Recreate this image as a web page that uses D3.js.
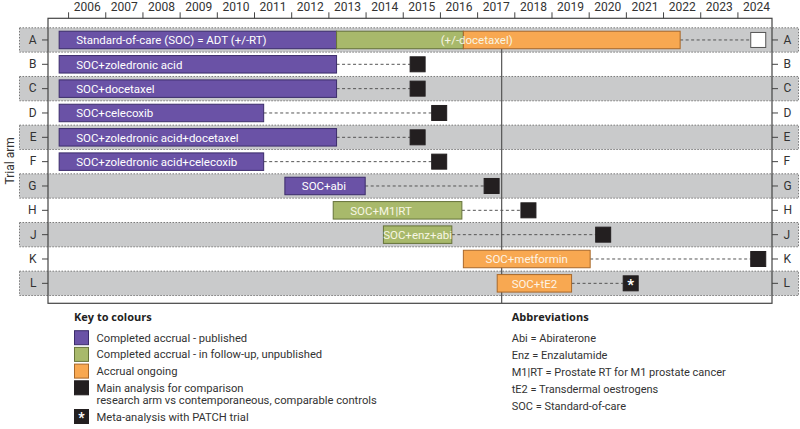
<!DOCTYPE html>
<html>
<head>
<meta charset="utf-8">
<script src="https://cdn.jsdelivr.net/npm/d3@7"></script>
<style>
  body { margin: 0; background: #fff; }
  svg { display: block; font-family: Roboto, "Noto Sans", sans-serif; }
</style>
</head>
<body>
<div id="chart"></div>
<script>
// trial arms, top to bottom
const arms = ["A", "B", "C", "D", "E", "F", "G", "H", "J", "K", "L"];
const shadedArms = ["A", "C", "E", "G", "J", "L"];
const years = d3.range(2006, 2025);

// accrual bars
const barArm    = ["A", "A", "A", "B", "C", "D", "E", "F", "G", "H", "J", "K", "L"];
const barStart  = [2005.76, 2013.22, 2016.63, 2005.76, 2005.76, 2005.76, 2005.76, 2005.76, 2011.83, 2013.13, 2014.48, 2016.63, 2017.54];
const barEnd    = [2013.22, 2016.63, 2022.46, 2013.22, 2013.22, 2011.26, 2013.22, 2011.26, 2013.99, 2016.59, 2016.32, 2020.04, 2019.54];
const barStatus = ["published", "followup", "ongoing", "published", "published", "published", "published", "published", "published", "followup", "followup", "ongoing", "ongoing"];
const barLabel  = ["Standard-of-care (SOC) = ADT (+/-RT)", "", "", "SOC+zoledronic acid", "SOC+docetaxel", "SOC+celecoxib",
                   "SOC+zoledronic acid+docetaxel", "SOC+zoledronic acid+celecoxib", "SOC+abi", "SOC+M1|RT", "SOC+enz+abi", "SOC+metformin", "SOC+tE2"];
const barAlign  = ["start", "start", "start", "start", "start", "start", "start", "start", "start", "start", "middle", "middle", "middle"];

// the SOC arm continues with or without docetaxel
const noteText = "(+/-docetaxel)";
const noteYear = 2016.02;

// analysis markers
const analysisArm  = ["A", "B", "C", "D", "E", "F", "G", "H", "J", "K", "L"];
const analysisYear = [2024.56, 2015.40, 2015.40, 2015.98, 2015.40, 2015.98, 2017.39, 2018.38, 2020.39, 2024.56, 2021.13];
const analysisType = ["open", "main", "main", "main", "main", "main", "main", "main", "main", "main", "meta"];

const markerYear = 2017.66;

// key and abbreviations
const keyTitle = "Key to colours";
const keyType  = ["published", "followup", "ongoing", "main", "meta"];
const keyText  = [["Completed accrual - published"], ["Completed accrual - in follow-up, unpublished"], ["Accrual ongoing"],
                  ["Main analysis for comparison", "research arm vs contemporaneous, comparable controls"], ["Meta-analysis with PATCH trial"]];
const abbrTitle = "Abbreviations";
const abbrText  = ["Abi = Abiraterone", "Enz = Enzalutamide", "M1|RT = Prostate RT for M1 prostate cancer",
                   "tE2 = Transdermal oestrogens", "SOC = Standard-of-care"];

const fillOf   = {published: "#6a52a6", followup: "#a8b96b", ongoing: "#f8a851", main: "#231f20", meta: "#231f20", open: "#fff"};
const strokeOf = {published: "#3b2c6a", followup: "#66733a", ongoing: "#a8682a", main: "#231f20", meta: "#231f20", open: "#555"};
const textOf   = {published: "#fff", followup: "#f7f6e4", ongoing: "#fdf4e6"};

const W = 800, H = 429;
const frame = {left: 48, right: 772, top: 18.3, bottom: 303.3};
const barH = 17.5, sq = 15;

const svg = d3.select("#chart").append("svg")
    .attr("width", W)
    .attr("height", H);

const x = d3.scaleLinear()
    .domain([2005.46, 2024.93])
    .range([frame.left, frame.right]);

const y = d3.scaleBand()
    .domain(arms)
    .range([27.8, 295.5]);

const cy = d => y(d) + y.bandwidth() / 2;

// shaded rows
svg.append("g")
    .selectAll("rect")
    .data(shadedArms)
    .join("rect")
    .attr("x", 19.5)
    .attr("y", d => y(d))
    .attr("width", 779)
    .attr("height", y.bandwidth())
    .attr("fill", "#c9cacb")
    .attr("stroke", "#7a7a7a")
    .attr("stroke-width", 1)
    .attr("stroke-dasharray", "1.5,1.5");

// frame
svg.append("rect")
    .attr("x", frame.left)
    .attr("y", frame.top)
    .attr("width", frame.right - frame.left)
    .attr("height", frame.bottom - frame.top)
    .attr("fill", "none")
    .attr("stroke", "#444")
    .attr("stroke-width", 1.2);

// top axis: ticks at year boundaries, labels mid-year
svg.append("g")
    .attr("transform", "translate(0," + frame.top + ")")
    .call(d3.axisTop(x).tickValues(years).tickSize(6).tickFormat(""))
    .call(g => g.select(".domain").remove())
    .call(g => g.selectAll("line").attr("stroke", "#444"));

svg.append("g")
    .attr("transform", "translate(0," + frame.top + ")")
    .call(d3.axisTop(x).tickValues(years.map(d => d + 0.5)).tickSize(0).tickPadding(7.3)
        .tickFormat(d => Math.floor(d)))
    .call(g => g.select(".domain").remove())
    .call(g => g.selectAll("text").attr("fill", "#333").style("font-size", "12px").style("font-family", "Roboto"));

// arm letters both sides
svg.append("g")
    .attr("transform", "translate(" + frame.left + ",0)")
    .call(d3.axisLeft(y).tickSize(6).tickPadding(5.5))
    .call(g => g.select(".domain").remove())
    .call(g => g.selectAll("line").attr("stroke", "#444"))
    .call(g => g.selectAll("text").attr("fill", "#333").style("font-size", "12px").style("font-family", "Roboto"));

svg.append("g")
    .attr("transform", "translate(" + frame.right + ",0)")
    .call(d3.axisRight(y).tickSize(6).tickPadding(5.5))
    .call(g => g.select(".domain").remove())
    .call(g => g.selectAll("line").attr("stroke", "#444"))
    .call(g => g.selectAll("text").attr("fill", "#333").style("font-size", "12px").style("font-family", "Roboto"));

svg.append("text")
    .attr("transform", "translate(14," + (frame.top + frame.bottom) / 2 + ") rotate(-90)")
    .attr("text-anchor", "middle")
    .attr("fill", "#333")
    .style("font-size", "12px")
    .text("Trial arm");

// dashed follow-up lines, from the last bar of each arm to its analysis
const lastEnd = arm => d3.max(barEnd.filter((e, i) => barArm[i] === arm));

svg.append("g")
    .selectAll("line")
    .data(analysisArm)
    .join("line")
    .attr("x1", d => x(lastEnd(d)))
    .attr("x2", (d, i) => x(analysisYear[i]) - sq / 2)
    .attr("y1", d => cy(d))
    .attr("y2", d => cy(d))
    .attr("stroke", "#555")
    .attr("stroke-width", 1)
    .attr("stroke-dasharray", "3,2.5");

// marker line
svg.append("line")
    .attr("x1", x(markerYear))
    .attr("x2", x(markerYear))
    .attr("y1", cy("A") + barH / 2)
    .attr("y2", frame.bottom)
    .attr("stroke", "#555")
    .attr("stroke-width", 1.2);

// accrual bars
const bars = svg.append("g")
    .selectAll("g")
    .data(barArm.map((arm, i) => ({arm, start: barStart[i], end: barEnd[i], status: barStatus[i], label: barLabel[i], align: barAlign[i]})))
    .join("g");

bars.append("rect")
    .attr("x", d => x(d.start))
    .attr("y", d => cy(d.arm) - barH / 2)
    .attr("width", d => x(d.end) - x(d.start))
    .attr("height", barH)
    .attr("fill", d => fillOf[d.status])
    .attr("stroke", d => strokeOf[d.status])
    .attr("stroke-width", 1);

bars.append("text")
    .attr("x", d => d.align === "middle" ? (x(d.start) + x(d.end)) / 2 : x(d.start) + 17)
    .attr("y", d => cy(d.arm) + 4.2)
    .attr("text-anchor", d => d.align)
    .attr("fill", d => textOf[d.status])
    .style("font-size", "11.5px")
    .text(d => d.label);

svg.append("text")
    .attr("x", x(noteYear))
    .attr("y", cy("A") + 4.2)
    .attr("fill", textOf.followup)
    .style("font-size", "11.5px")
    .text(noteText);

// analysis squares
const marks = svg.append("g")
    .selectAll("g")
    .data(analysisArm.map((arm, i) => ({arm, year: analysisYear[i], type: analysisType[i]})))
    .join("g")
    .attr("transform", d => "translate(" + x(d.year) + "," + cy(d.arm) + ")");

marks.append("rect")
    .attr("x", -sq / 2)
    .attr("y", -sq / 2)
    .attr("width", sq)
    .attr("height", sq)
    .attr("fill", d => fillOf[d.type])
    .attr("stroke", d => strokeOf[d.type])
    .attr("stroke-width", 1);

marks.filter(d => d.type === "meta").append("text")
    .attr("text-anchor", "middle")
    .attr("y", 7)
    .attr("fill", "#fff")
    .style("font-size", "15px")
    .style("font-weight", "bold")
    .text("*");

// key to colours
const key = svg.append("g").attr("transform", "translate(74,0)");

key.append("text")
    .attr("y", 320.8)
    .attr("fill", "#222")
    .style("font-size", "11px")
    .style("font-family", "'Open Sans'")
    .style("font-weight", "bold")
    .text(keyTitle);

let ky = 337.7;
const keyRows = keyType.map((t, i) => {
    const row = {type: t, lines: keyText[i], y: ky};
    ky += 16.7 + (keyText[i].length - 1) * 12;
    return row;
});

const keyItems = key.selectAll("g.item")
    .data(keyRows)
    .join("g")
    .attr("class", "item")
    .attr("transform", d => "translate(0," + d.y + ")");

keyItems.append("rect")
    .attr("x", 0.5)
    .attr("y", -7)
    .attr("width", 14)
    .attr("height", 14)
    .attr("fill", d => fillOf[d.type])
    .attr("stroke", d => strokeOf[d.type]);

keyItems.filter(d => d.type === "meta").append("text")
    .attr("x", 7.5)
    .attr("y", 6.5)
    .attr("text-anchor", "middle")
    .attr("fill", "#fff")
    .style("font-size", "14px")
    .style("font-weight", "bold")
    .text("*");

keyItems.selectAll("text.lbl")
    .data(d => d.lines)
    .join("text")
    .attr("class", "lbl")
    .attr("x", 22.5)
    .attr("y", (d, j) => 4 + j * 12)
    .attr("fill", "#333")
    .style("font-size", "11.2px")
    .text(d => d);

// abbreviations
const abbr = svg.append("g").attr("transform", "translate(511.7,0)");

abbr.append("text")
    .attr("y", 320.8)
    .attr("fill", "#222")
    .style("font-size", "11px")
    .style("font-family", "'Open Sans'")
    .style("font-weight", "bold")
    .text(abbrTitle);

abbr.selectAll("text.abbr")
    .data(abbrText)
    .join("text")
    .attr("class", "abbr")
    .attr("y", (d, i) => 342.3 + i * 16.9)
    .attr("fill", "#333")
    .style("font-size", "11px")
    .text(d => d);
</script>
</body>
</html>
